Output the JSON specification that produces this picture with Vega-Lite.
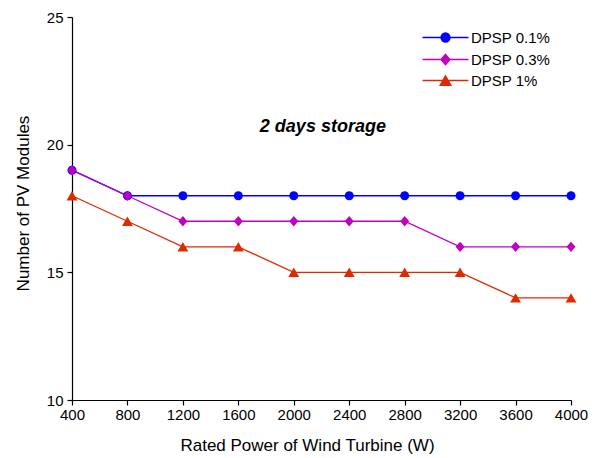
{
  "$schema": "https://vega.github.io/schema/vega-lite/v6.json",
  "width": 499,
  "height": 383,
  "autosize": {"type": "none"},
  "padding": {"left": 72, "top": 17, "right": 37, "bottom": 58},
  "background": "white",
  "config": {
    "view": {"stroke": null},
    "font": "Liberation Sans",
    "axis": {
      "grid": false,
      "ticks": true,
      "tickSize": 5,
      "tickColor": "black",
      "tickWidth": 1.2,
      "domainColor": "black",
      "domainWidth": 1.2,
      "labelFlush": false,
      "labelColor": "black",
      "labelFont": "Liberation Sans",
      "labelFontSize": 15,
      "titleColor": "black",
      "titleFont": "Liberation Sans",
      "titleFontSize": 17,
      "titleFontWeight": "normal"
    }
  },
  "data": {
    "values": [
      {"power": 400, "series": "DPSP 0.1%", "modules": 19},
      {"power": 800, "series": "DPSP 0.1%", "modules": 18},
      {"power": 1200, "series": "DPSP 0.1%", "modules": 18},
      {"power": 1600, "series": "DPSP 0.1%", "modules": 18},
      {"power": 2000, "series": "DPSP 0.1%", "modules": 18},
      {"power": 2400, "series": "DPSP 0.1%", "modules": 18},
      {"power": 2800, "series": "DPSP 0.1%", "modules": 18},
      {"power": 3200, "series": "DPSP 0.1%", "modules": 18},
      {"power": 3600, "series": "DPSP 0.1%", "modules": 18},
      {"power": 4000, "series": "DPSP 0.1%", "modules": 18},
      {"power": 400, "series": "DPSP 0.3%", "modules": 19},
      {"power": 800, "series": "DPSP 0.3%", "modules": 18},
      {"power": 1200, "series": "DPSP 0.3%", "modules": 17},
      {"power": 1600, "series": "DPSP 0.3%", "modules": 17},
      {"power": 2000, "series": "DPSP 0.3%", "modules": 17},
      {"power": 2400, "series": "DPSP 0.3%", "modules": 17},
      {"power": 2800, "series": "DPSP 0.3%", "modules": 17},
      {"power": 3200, "series": "DPSP 0.3%", "modules": 16},
      {"power": 3600, "series": "DPSP 0.3%", "modules": 16},
      {"power": 4000, "series": "DPSP 0.3%", "modules": 16},
      {"power": 400, "series": "DPSP 1%", "modules": 18},
      {"power": 800, "series": "DPSP 1%", "modules": 17},
      {"power": 1200, "series": "DPSP 1%", "modules": 16},
      {"power": 1600, "series": "DPSP 1%", "modules": 16},
      {"power": 2000, "series": "DPSP 1%", "modules": 15},
      {"power": 2400, "series": "DPSP 1%", "modules": 15},
      {"power": 2800, "series": "DPSP 1%", "modules": 15},
      {"power": 3200, "series": "DPSP 1%", "modules": 15},
      {"power": 3600, "series": "DPSP 1%", "modules": 14},
      {"power": 4000, "series": "DPSP 1%", "modules": 14}
    ]
  },
  "encoding": {
    "x": {
      "field": "power",
      "type": "quantitative",
      "scale": {"domain": [400, 4000], "nice": false, "zero": false},
      "axis": {
        "title": "Rated Power of Wind Turbine (W)",
        "format": "d",
        "values": [400, 800, 1200, 1600, 2000, 2400, 2800, 3200, 3600, 4000],
        "labelPadding": 2,
        "titlePadding": 15,
        "titleX": 235,
        "encode": {"ticks": {"update": {"y2": {"value": -5}}}}
      }
    },
    "y": {
      "field": "modules",
      "type": "quantitative",
      "scale": {"domain": [10, 25], "nice": false, "zero": false},
      "axis": {
        "title": "Number of PV Modules",
        "format": "d",
        "values": [10, 15, 20, 25],
        "labelPadding": 4,
        "titlePadding": 14,
        "titleY": 186,
        "encode": {"ticks": {"update": {"x2": {"value": 5}}}}
      }
    }
  },
  "layer": [
    {
      "mark": {"type": "line", "strokeWidth": 1.3},
      "encoding": {
        "color": {
          "field": "series",
          "type": "nominal",
          "scale": {
            "domain": ["DPSP 0.1%", "DPSP 0.3%", "DPSP 1%"],
            "range": ["#0000ff", "#c000c0", "#dd2a00"]
          },
          "legend": {
            "title": null,
            "orient": "none",
            "legendX": 366,
            "legendY": 13,
            "padding": 0,
            "symbolOffset": 0,
            "symbolSize": 81,
            "symbolStrokeWidth": 1.3,
            "labelOffset": 18,
            "labelFontSize": 15,
            "labelFont": "Liberation Sans",
            "labelColor": "black",
            "rowPadding": 5,
            "encode": {
              "symbols": {
                "update": {
                  "shape": {
                    "signal": "datum.value === 'DPSP 0.1%' ? 'M-5.1,0H5.1M-1,0A1,1 0 1,0 1,0A1,1 0 1,0 -1,0Z' : datum.value === 'DPSP 0.3%' ? 'M-5.1,0H5.1M0,-1.15L1,0L0,1.15L-1,0Z' : 'M-5.1,0H5.1M0,-1.05L1.2,1.05L-1.2,1.05Z'"
                  },
                  "fill": {"scale": "color", "field": "value"},
                  "stroke": {"scale": "color", "field": "value"},
                  "strokeWidth": {"value": 1.3}
                }
              }
            }
          }
        }
      }
    },
    {
      "transform": [{"filter": "datum.series === 'DPSP 0.1%'"}],
      "mark": {"type": "point", "shape": "circle", "filled": true, "opacity": 1, "size": 81, "color": "#0000ff"}
    },
    {
      "transform": [{"filter": "datum.series === 'DPSP 0.3%'"}],
      "mark": {"type": "point", "shape": "M0,-1.15L1,0L0,1.15L-1,0Z", "filled": true, "opacity": 1, "size": 81, "color": "#c000c0"}
    },
    {
      "transform": [{"filter": "datum.series === 'DPSP 1%'"}],
      "mark": {"type": "point", "shape": "M0,-1.05L1.2,1.05L-1.2,1.05Z", "filled": true, "opacity": 1, "size": 81, "color": "#dd2a00"}
    },
    {
      "data": {"values": [{"power": 2210, "modules": 20.7, "note": "2 days storage"}]},
      "mark": {
        "type": "text",
        "font": "Liberation Sans",
        "fontSize": 18,
        "fontWeight": "bold",
        "fontStyle": "italic",
        "color": "black",
        "align": "center",
        "baseline": "middle"
      },
      "encoding": {"text": {"field": "note"}}
    }
  ]
}
